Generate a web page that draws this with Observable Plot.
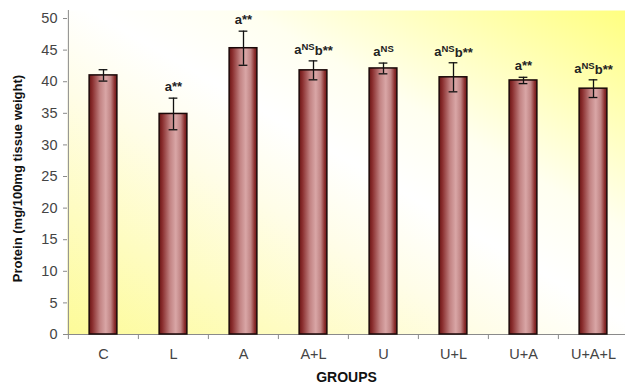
<!DOCTYPE html>
<html>
<head>
<meta charset="utf-8">
<script src="https://cdn.jsdelivr.net/npm/d3@7"></script>
<script src="https://cdn.jsdelivr.net/npm/@observablehq/plot@0.6"></script>
<style>
  html, body { margin: 0; padding: 0; background: #ffffff; }
  #chart { width: 625px; height: 391px; overflow: hidden; }
</style>
</head>
<body>
<div id="chart"></div>
<script>
const groups = ["C", "L", "A", "A+L", "U", "U+L", "U+A", "U+A+L"];
const means  = [41.0, 34.9, 45.3, 41.8, 42.1, 40.7, 40.2, 38.9];
const errors = [0.9, 2.5, 2.7, 1.5, 0.85, 2.3, 0.5, 1.4];
const labels = ["", "a**", "a**", "aNSb**", "aNS", "aNSb**", "a**", "aNSb**"];
const yTicks = [0, 5, 10, 15, 20, 25, 30, 35, 40, 45, 50];

const data = groups.map((g, i) => ({group: g, mean: means[i], err: errors[i], label: labels[i]}));

const font = "'Liberation Sans', Arial, Helvetica, sans-serif";
const xRange = [67, 629];
const bw = (xRange[1] - xRange[0]) / groups.length;
const yTop = 51.27;

const chart = Plot.plot({
  width: 625,
  height: 391,
  marginLeft: 67,
  marginRight: 0,
  marginTop: 10,
  marginBottom: 57,
  style: {fontFamily: font, background: "transparent"},
  x: {domain: groups, range: xRange, padding: 0, label: null},
  y: {domain: [0, yTop], label: null},
  marks: [
    Plot.frame({fill: "url(#bgGrad)", stroke: "none"}),
    // axis lines
    Plot.ruleY([0], {stroke: "#8a8a8a", strokeWidth: 1}),
    Plot.ruleX([groups[0]], {dx: -bw / 2, y1: 0, y2: yTop, stroke: "#8a8a8a", strokeWidth: 1}),
    // category boundary ticks
    Plot.ruleX(groups, {x: d => d, dx: -bw / 2, y1: 0, y2: -0.8, stroke: "#8a8a8a"}),
    Plot.axisY({ticks: yTicks, tickSize: 4, tickPadding: 6, fontSize: 14.5, color: "#444", stroke: "#8a8a8a", label: null}),
    Plot.axisX({tickSize: 0, tickPadding: 14, fontSize: 14.5, color: "#444", label: null}),
    // bars
    Plot.barY(data, {x: "group", y: "mean", fill: "url(#barGrad)", stroke: "#1a0808", strokeWidth: 1.5,
      insetLeft: (bw - 28) / 2, insetRight: (bw - 28) / 2}),
    // error bars
    Plot.ruleX(data, {x: "group", y1: d => d.mean - d.err, y2: d => d.mean + d.err, stroke: "#111", strokeWidth: 1.3}),
    Plot.tickY(data, {x: "group", y: d => d.mean + d.err, stroke: "#111", strokeWidth: 1.3, insetLeft: (bw - 9) / 2, insetRight: (bw - 9) / 2}),
    Plot.tickY(data, {x: "group", y: d => d.mean - d.err, stroke: "#111", strokeWidth: 1.3, insetLeft: (bw - 9) / 2, insetRight: (bw - 9) / 2}),
    // significance labels
    Plot.text(data.filter(d => d.label), {x: "group", y: d => d.mean + d.err, text: "label", dy: -11,
      fontSize: 13, fontWeight: "bold", fill: "#222"}),
    // axis titles
    Plot.text(["Protein (mg/100mg tissue weight)"], {frameAnchor: "left", textAnchor: "middle", rotate: -90, dx: -50, dy: 6,
      fontSize: 13, fontWeight: "bold", fill: "#111"}),
    Plot.text(["GROUPS"], {frameAnchor: "bottom", textAnchor: "middle", dy: 47, fontSize: 14, fontWeight: "bold", fill: "#111"})
  ]
});

const svg = d3.select(chart);
const defs = svg.insert("defs", ":first-child");
const bg = defs.append("linearGradient").attr("id", "bgGrad")
  .attr("x1", 0).attr("y1", 1).attr("x2", 1).attr("y2", 0);
[[0, "#fdfb98"], [0.38, "#fffde8"], [0.52, "#ffffff"], [0.66, "#fffff0"], [1, "#ffff80"]]
  .forEach(([o, c]) => bg.append("stop").attr("offset", o).attr("stop-color", c));
const bar = defs.append("linearGradient").attr("id", "barGrad")
  .attr("x1", 0).attr("y1", 0).attr("x2", 1).attr("y2", 0);
[[0, "#6a1414"], [0.12, "#8a2e2e"], [0.4, "#c38585"], [0.6, "#d9a6a6"], [0.78, "#c08484"], [0.92, "#8a2e2e"], [1, "#6a1414"]]
  .forEach(([o, c]) => bar.append("stop").attr("offset", o).attr("stop-color", c));

// superscript "NS" within labels
svg.selectAll("text").each(function () {
  const t = d3.select(this);
  if (this.querySelector("tspan")) return;
  const s = this.textContent;
  const i = s.indexOf("NS");
  if (i < 0) return;
  const before = s.slice(0, i), after = s.slice(i + 2);
  t.text(null);
  t.append("tspan").text(before);
  t.append("tspan").attr("font-size", 9.5).attr("dy", "-0.4em").text("NS");
  if (after) t.append("tspan").attr("dy", "0.4em").text(after);
});

document.getElementById("chart").appendChild(chart);
</script>
</body>
</html>
